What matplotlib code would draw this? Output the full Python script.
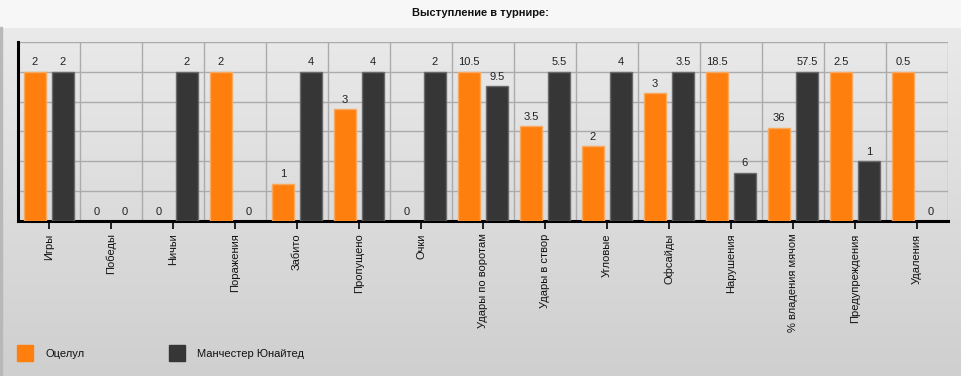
import numpy as np
import matplotlib.pyplot as plt
from matplotlib.patches import Rectangle
from matplotlib.colors import LinearSegmentedColormap

plt.rcParams["font.family"] = ["Liberation Sans", "DejaVu Sans"]

# data
categories = ["Игры", "Победы", "Ничьи", "Поражения", "Забито", "Пропущено", "Очки",
              "Удары по воротам", "Удары в створ", "Угловые", "Офсайды", "Нарушения",
              "% владения мячом", "Предупреждения", "Удаления"]
otelul = [2, 0, 0, 2, 1, 3, 0, 10.5, 3.5, 2, 3, 18.5, 36, 2.5, 0.5]
manutd = [2, 0, 2, 0, 4, 4, 2, 9.5, 5.5, 4, 3.5, 6, 57.5, 1, 0]
team_names = ["Оцелул", "Манчестер Юнайтед"]
colors = ["#ff7f0e", "#363636"]
edges = ["#f9a860", "#6a6a6a"]

# each category is scaled to its own maximum
a = np.array(otelul, dtype=float)
b = np.array(manutd, dtype=float)
mx = np.maximum(a, b)
mx[mx == 0] = 1
ha = a / mx
hb = b / mx

fig = plt.figure(figsize=(9.61, 3.76), dpi=100)

# background gradient + title bar
bg = fig.add_axes([0, 0, 1, 1])
grad = np.linspace(0, 1, 256).reshape(-1, 1)
cmap = LinearSegmentedColormap.from_list("g", ["#ececec", "#cfcfcf"])
bg.imshow(grad, aspect="auto", cmap=cmap, extent=[0, 1, 0, 1], origin="upper")
bg.add_patch(Rectangle((0, 1 - 27 / 376), 1, 27 / 376, color="#f7f7f7", zorder=2))
bg.add_patch(Rectangle((0, 0), 2 / 961, 1 - 27 / 376, color="#b8b8b8", zorder=3))
bg.set_xlim(0, 1)
bg.set_ylim(0, 1)
bg.axis("off")
bg.text(0.5, 1 - 13 / 376, "Выступление в турнире:", ha="center", va="center",
        fontsize=8, fontweight="bold", color="#111111", zorder=4)

ax = fig.add_axes([18 / 961, 155 / 376, 930 / 961, 179 / 376])
ax.patch.set_alpha(0)
x = np.arange(len(categories))
w = 0.36
off = 0.225
ax.bar(x - off, ha, w, color=colors[0], edgecolor=[edges[0] if v > 0 else "none" for v in ha],
       linewidth=1, zorder=3)
ax.bar(x + off, hb, w, color=colors[1], edgecolor=[edges[1] if v > 0 else "none" for v in hb],
       linewidth=1, zorder=3)

for i in range(len(categories)):
    ax.text(x[i] - off, ha[i] + 0.03, "%g" % a[i], ha="center", va="bottom", fontsize=8,
            color="#222222", zorder=4)
    ax.text(x[i] + off, hb[i] + 0.03, "%g" % b[i], ha="center", va="bottom", fontsize=8,
            color="#222222", zorder=4)

ax.set_xlim(-0.5, len(categories) - 0.5)
ax.set_ylim(0, 1.2)
for yv in np.arange(0.2, 1.21, 0.2):
    ax.axhline(yv, color="#ababab", linewidth=1, zorder=1)
for xv in np.arange(0.5, len(categories), 1):
    ax.axvline(xv, color="#ababab", linewidth=1, zorder=1)

ax.set_xticks(x)
ax.set_xticklabels(categories, rotation=90, fontsize=8, color="#111111")
ax.tick_params(axis="x", length=6, width=1.2, color="black", pad=3)
ax.set_yticks([])
for s in ["top", "right"]:
    ax.spines[s].set_visible(False)
ax.spines["left"].set_linewidth(2.2)
ax.spines["bottom"].set_linewidth(2.2)

# legend
bg.add_patch(Rectangle((17 / 961, 15 / 376), 16 / 961, 16 / 376, color=colors[0], zorder=4))
bg.text(45 / 961, 22 / 376, team_names[0], fontsize=8, va="center", color="#111111", zorder=4)
bg.add_patch(Rectangle((169 / 961, 15 / 376), 16 / 961, 16 / 376, color=colors[1], zorder=4))
bg.text(197 / 961, 22 / 376, team_names[1], fontsize=8, va="center", color="#111111", zorder=4)

fig.savefig("out.png", dpi=100)
